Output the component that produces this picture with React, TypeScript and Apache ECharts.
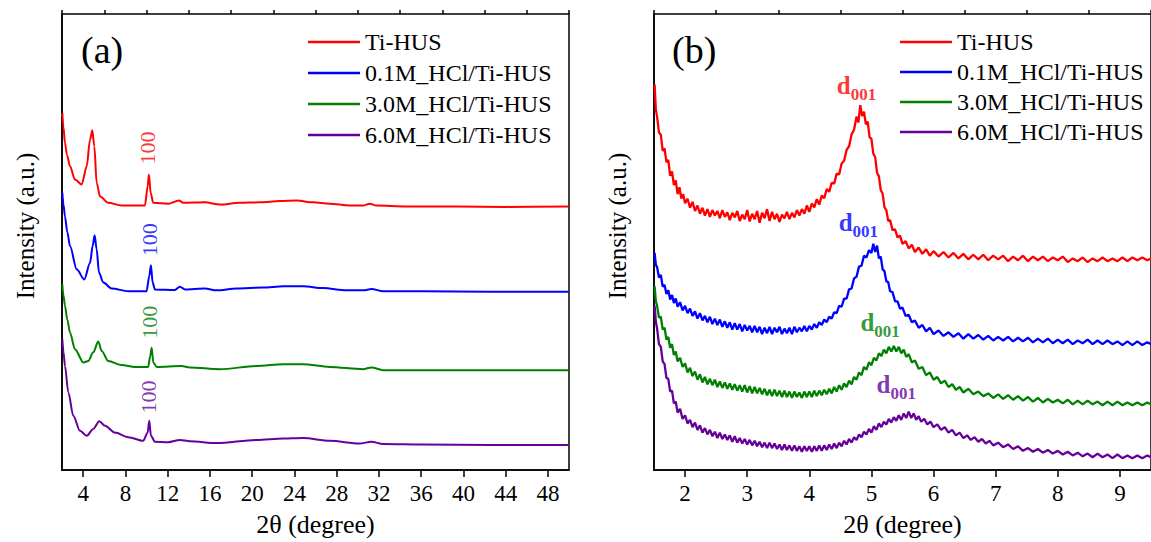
import React, { useEffect, useRef } from "react";
import * as echarts from "echarts";

const FONT = "'Liberation Serif', 'Times New Roman', serif";

const seriesNames = ["Ti-HUS", "0.1M_HCl/Ti-HUS", "3.0M_HCl/Ti-HUS", "6.0M_HCl/Ti-HUS"];
const seriesColors = ["#ff0000", "#0000ff", "#008000", "#660099"];

// Panel (a): 2θ from 2 to 50, intensity in arbitrary units (0–100, stacked offsets)
const aTiHUS: [number, number][] = [
  [2.03, 78.3], [2.14, 75.1], [2.28, 71.8], [2.47, 69.1], [2.76, 66.6], [3.23, 63.7], [3.86, 62.6], [4.34, 66.6], [4.65, 72.4],
  [4.87, 74.5], [5.06, 71.0], [5.28, 63.0], [5.6, 60.0], [6.38, 58.6], [7.65, 58.0], [9.85, 58.0],
  [10.11, 62.2], [10.23, 64.8], [10.39, 60.8], [10.64, 58.6], [12.06, 58.4], [13.07, 59.1], [13.48, 58.6],
  [15.53, 58.7], [16.95, 58.2], [18.84, 58.6], [20.73, 58.7], [22.62, 59.0], [24.2, 59.1], [25.77, 58.7],
  [27.35, 58.4], [29.25, 58.0], [30.5, 58.0], [31.14, 58.4], [31.77, 58.0], [34.61, 57.8], [39.34, 57.8],
  [44.07, 57.7], [49.97, 57.8],
];
const aHCl01: [number, number][] = [
  [2.03, 60.8], [2.14, 58.2], [2.28, 55.6], [2.5, 52.2], [2.76, 49.1], [3.39, 44.0], [4.11, 41.8], [4.65, 45.4], [4.9, 49.1],
  [5.09, 51.5], [5.28, 48.4], [5.5, 43.3], [5.91, 41.1], [6.7, 39.8], [8.27, 39.2], [10.01, 39.2],
  [10.26, 42.5], [10.42, 44.9], [10.58, 41.1], [10.8, 39.6], [12.69, 39.5], [13.16, 40.2], [13.64, 39.6],
  [15.53, 39.8], [16.64, 39.4], [18.53, 39.8], [21.04, 40.0], [22.94, 40.3], [24.83, 40.3], [26.72, 39.9],
  [28.93, 39.4], [30.5, 39.4], [31.3, 39.7], [32.4, 39.2], [36.18, 39.2], [42.49, 39.1], [49.97, 39.1],
];
const aHCl30: [number, number][] = [
  [2.03, 40.7], [2.14, 38.3], [2.28, 36.0], [2.5, 33.0], [2.76, 30.1], [3.23, 26.5], [4.02, 23.6], [4.49, 23.9], [4.96, 25.8],
  [5.43, 28.2], [5.76, 26.1], [6.38, 23.9], [7.65, 23.0], [8.91, 22.6], [10.16, 22.6], [10.35, 25.0],
  [10.49, 26.8], [10.64, 23.6], [10.96, 22.6], [13.32, 22.8], [14.11, 22.5], [16.95, 22.1], [20.42, 22.8],
  [22.94, 23.2], [24.83, 23.2], [27.35, 22.6], [30.5, 22.1], [31.3, 22.5], [32.4, 21.9], [36.18, 21.9],
  [42.49, 21.9], [49.97, 21.9],
];
const aHCl60: [number, number][] = [
  [2.03, 28.7], [2.14, 25.9], [2.28, 22.8], [2.6, 17.0], [3.07, 11.9], [3.7, 8.6], [4.34, 7.5], [4.96, 9.0],
  [5.53, 10.7], [6.07, 9.7], [7.01, 8.2], [8.27, 7.2], [9.69, 6.4], [10.11, 8.2], [10.26, 10.8],
  [10.42, 7.5], [10.8, 6.2], [12.06, 6.1], [13.16, 6.6], [14.11, 6.3], [16.64, 5.9], [20.42, 6.6],
  [22.94, 6.9], [24.83, 7.0], [27.35, 6.4], [30.19, 5.8], [31.3, 6.2], [32.4, 5.7], [36.18, 5.6],
  [42.49, 5.5], [49.97, 5.5],
];

// Panel (b): 2θ from 1.5 to 9.5 (noisy low-angle scans)
const bTiHUS: [number, number][] = [
  [1.51, 84.5], [1.53, 79], [1.55, 77.5], [1.58, 74], [1.61, 73.5], [1.64, 70], [1.67, 70.5], [1.7, 67.5],
  [1.73, 68], [1.76, 64.5], [1.79, 65.5], [1.82, 62.5], [1.85, 63.5], [1.88, 60.5], [1.91, 62], [1.94, 59.5],
  [1.97, 60.5], [2.0, 58.5], [2.04, 59.5], [2.08, 57.5], [2.12, 58.8], [2.16, 56.8], [2.2, 58], [2.24, 56.2],
  [2.28, 57.5], [2.32, 55.8], [2.36, 57.2], [2.4, 55.5], [2.44, 57], [2.48, 55.8], [2.52, 56.8], [2.56, 55.2],
  [2.6, 57], [2.64, 55.5], [2.68, 56.5], [2.72, 54.8], [2.76, 56.4], [2.8, 55.4], [2.84, 56.8], [2.88, 54.6],
  [2.92, 56], [2.96, 55], [3.0, 57], [3.04, 54.5], [3.08, 56.2], [3.12, 55], [3.16, 56.8], [3.2, 54.2],
  [3.24, 56.4], [3.28, 55.2], [3.32, 57.2], [3.36, 54.6], [3.4, 56.6], [3.44, 55], [3.48, 56.2], [3.52, 54.4],
  [3.56, 56], [3.6, 55.2], [3.64, 56.6], [3.68, 55], [3.72, 56.4], [3.76, 55.4], [3.8, 57], [3.84, 55.8],
  [3.88, 57.2], [3.92, 56.2], [3.96, 58], [4.0, 56.6], [4.04, 58.4], [4.08, 57.6], [4.12, 59.4], [4.16, 58.2],
  [4.2, 60.2], [4.24, 59.6], [4.28, 61.6], [4.32, 61], [4.36, 63], [4.4, 62.8], [4.44, 65], [4.48, 64.8],
  [4.52, 67.2], [4.56, 67.8], [4.6, 70.2], [4.64, 71], [4.68, 73.6], [4.72, 74.6], [4.76, 77.5], [4.79, 76.2],
  [4.82, 80], [4.85, 77.6], [4.88, 78.6], [4.91, 75.8], [4.94, 76.4], [4.97, 73], [5.0, 72.6], [5.03, 69.4],
  [5.06, 68.6], [5.09, 65.2], [5.12, 64.4], [5.15, 61.4], [5.18, 60.6], [5.21, 57.6], [5.24, 57], [5.27, 54.6],
  [5.3, 54.8], [5.34, 52.6], [5.38, 52.8], [5.42, 51], [5.46, 51.4], [5.5, 49.6], [5.55, 50.2], [5.6, 48.6],
  [5.65, 49.4], [5.7, 47.8], [5.76, 48.8], [5.82, 47.4], [5.88, 48.4], [5.94, 47], [6.0, 48], [6.08, 46.8],
  [6.16, 47.8], [6.24, 46.6], [6.32, 47.6], [6.4, 46.4], [6.48, 47.4], [6.56, 46.2], [6.64, 47.2], [6.72, 46.2],
  [6.8, 47.2], [6.88, 46], [6.96, 47], [7.04, 46.2], [7.12, 47], [7.2, 45.8], [7.28, 46.8], [7.36, 46],
  [7.44, 47], [7.52, 45.8], [7.6, 46.8], [7.68, 46], [7.76, 46.8], [7.84, 45.8], [7.92, 46.6], [8.0, 46],
  [8.08, 46.8], [8.16, 45.6], [8.24, 46.4], [8.32, 45.8], [8.4, 46.6], [8.48, 45.6], [8.56, 46.4], [8.64, 45.8],
  [8.72, 46.6], [8.8, 45.8], [8.88, 46.4], [8.96, 45.8], [9.04, 46.6], [9.12, 45.8], [9.2, 46.6], [9.28, 46],
  [9.36, 46.6], [9.44, 46], [9.5, 46.4],
];
const bHCl01: [number, number][] = [
  [1.51, 47.6], [1.53, 45], [1.55, 44.5], [1.58, 42.2], [1.61, 42.8], [1.64, 40.2], [1.67, 40.6], [1.7, 38.6],
  [1.73, 39.4], [1.76, 37.4], [1.79, 38.4], [1.82, 36.6], [1.85, 37.6], [1.88, 35.8], [1.92, 36.8], [1.96, 35],
  [2.0, 36], [2.04, 34.4], [2.08, 35.4], [2.12, 33.8], [2.16, 34.8], [2.2, 33.2], [2.24, 34.4], [2.28, 32.8],
  [2.32, 33.8], [2.36, 32.4], [2.4, 33.6], [2.44, 32], [2.48, 33.2], [2.52, 31.8], [2.56, 33], [2.6, 31.4],
  [2.64, 32.6], [2.68, 31.2], [2.72, 32.4], [2.76, 30.8], [2.8, 32.2], [2.84, 30.8], [2.88, 32], [2.92, 30.4],
  [2.96, 31.8], [3.0, 30.6], [3.04, 31.6], [3.08, 30.2], [3.12, 31.6], [3.16, 30.2], [3.2, 31.4], [3.24, 29.8],
  [3.28, 31.2], [3.32, 30], [3.36, 31.4], [3.4, 29.8], [3.44, 31.2], [3.48, 30.2], [3.52, 31.4], [3.56, 29.8],
  [3.6, 31], [3.64, 30], [3.68, 31.2], [3.72, 29.8], [3.76, 31.4], [3.8, 30.2], [3.84, 31.2], [3.88, 30.4],
  [3.92, 31.6], [3.96, 30.4], [4.0, 31.6], [4.04, 30.8], [4.08, 32], [4.12, 31.2], [4.16, 32.4], [4.2, 31.8],
  [4.24, 33], [4.28, 32.4], [4.32, 33.6], [4.36, 33.2], [4.4, 34.6], [4.44, 34.4], [4.48, 36], [4.52, 35.8],
  [4.56, 37.6], [4.6, 37.6], [4.64, 39.6], [4.68, 39.8], [4.72, 42], [4.76, 42.4], [4.8, 44.6], [4.84, 44.8],
  [4.88, 47], [4.92, 46.6], [4.96, 48.2], [5.0, 47.6], [5.03, 49.6], [5.06, 47.8], [5.09, 49.2], [5.12, 46.4],
  [5.15, 46.8], [5.18, 44], [5.21, 43.6], [5.24, 41.4], [5.27, 41.2], [5.3, 39.2], [5.34, 39], [5.38, 37],
  [5.42, 37], [5.46, 35.4], [5.5, 35.6], [5.55, 33.8], [5.6, 34], [5.65, 32.4], [5.7, 32.8], [5.76, 31.2],
  [5.82, 31.8], [5.88, 30.4], [5.94, 31.2], [6.0, 29.8], [6.08, 30.6], [6.16, 29.4], [6.24, 30.2], [6.32, 29.2],
  [6.4, 30], [6.48, 28.8], [6.56, 29.8], [6.64, 28.8], [6.72, 29.6], [6.8, 28.6], [6.88, 29.4], [6.96, 28.4],
  [7.04, 29.2], [7.12, 28.4], [7.2, 29.2], [7.28, 28.2], [7.36, 29], [7.44, 28.2], [7.52, 29], [7.6, 28],
  [7.68, 28.8], [7.76, 28], [7.84, 28.8], [7.92, 27.8], [8.0, 28.6], [8.08, 27.8], [8.16, 28.6], [8.24, 27.6],
  [8.32, 28.4], [8.4, 27.8], [8.48, 28.6], [8.56, 27.6], [8.64, 28.4], [8.72, 27.6], [8.8, 28.4], [8.88, 27.6],
  [8.96, 28.2], [9.04, 27.4], [9.12, 28.2], [9.2, 27.4], [9.28, 28.2], [9.36, 27.4], [9.44, 28], [9.5, 27.6],
];
const bHCl30: [number, number][] = [
  [1.51, 40.3], [1.53, 37], [1.55, 36], [1.58, 33.4], [1.61, 33.6], [1.64, 30.8], [1.67, 31.2], [1.7, 28.6],
  [1.73, 29.2], [1.76, 26.8], [1.79, 27.6], [1.82, 25.2], [1.85, 26], [1.88, 23.8], [1.92, 24.6], [1.96, 22.6],
  [2.0, 23.4], [2.04, 21.4], [2.08, 22.4], [2.12, 20.6], [2.16, 21.6], [2.2, 19.8], [2.24, 21], [2.28, 19.2],
  [2.32, 20.4], [2.36, 18.8], [2.4, 20], [2.44, 18.6], [2.48, 19.8], [2.52, 18.2], [2.56, 19.4], [2.6, 18],
  [2.64, 19.2], [2.68, 17.8], [2.72, 19], [2.76, 17.6], [2.8, 18.8], [2.84, 17.4], [2.88, 18.6], [2.92, 17.2],
  [2.96, 18.6], [3.0, 17], [3.04, 18.4], [3.08, 16.8], [3.12, 18.2], [3.16, 16.8], [3.2, 18], [3.24, 16.6],
  [3.28, 17.8], [3.32, 16.4], [3.36, 17.6], [3.4, 16.2], [3.44, 17.6], [3.48, 16.2], [3.52, 17.4], [3.56, 16],
  [3.6, 17.4], [3.64, 16], [3.68, 17.2], [3.72, 15.8], [3.76, 17.2], [3.8, 16], [3.84, 17], [3.88, 15.8],
  [3.92, 17.2], [3.96, 16], [4.0, 17.2], [4.04, 16], [4.08, 17.4], [4.12, 16.2], [4.16, 17.4], [4.2, 16.4],
  [4.24, 17.6], [4.28, 16.6], [4.32, 17.8], [4.36, 16.8], [4.4, 18.2], [4.44, 17.2], [4.48, 18.6], [4.52, 17.6],
  [4.56, 19], [4.6, 18.2], [4.64, 19.6], [4.68, 18.8], [4.72, 20.4], [4.76, 19.8], [4.8, 21.4], [4.84, 20.8],
  [4.88, 22.6], [4.92, 22], [4.96, 23.6], [5.0, 23], [5.04, 24.6], [5.08, 24], [5.12, 25.6], [5.16, 25],
  [5.2, 26.4], [5.24, 25.6], [5.28, 27], [5.32, 26], [5.36, 27.2], [5.4, 26], [5.44, 27], [5.48, 25.6],
  [5.52, 26.4], [5.56, 24.8], [5.6, 25.4], [5.65, 23.6], [5.7, 24], [5.76, 22.2], [5.82, 22.6], [5.88, 20.8],
  [5.94, 21.4], [6.0, 19.8], [6.06, 20.4], [6.12, 19], [6.18, 19.6], [6.24, 18.2], [6.3, 18.8], [6.36, 17.6],
  [6.42, 18.2], [6.48, 17], [6.56, 17.8], [6.64, 16.6], [6.72, 17.2], [6.8, 16.2], [6.88, 16.8], [6.96, 15.8],
  [7.04, 16.6], [7.12, 15.6], [7.2, 16.4], [7.28, 15.4], [7.36, 16.2], [7.44, 15.2], [7.52, 16], [7.6, 15],
  [7.68, 15.8], [7.76, 14.8], [7.84, 15.6], [7.92, 14.8], [8.0, 15.4], [8.08, 14.6], [8.16, 15.4], [8.24, 14.4],
  [8.32, 15.2], [8.4, 14.4], [8.48, 15.2], [8.56, 14.4], [8.64, 15], [8.72, 14.2], [8.8, 15], [8.88, 14.2],
  [8.96, 15], [9.04, 14.2], [9.12, 14.8], [9.2, 14.2], [9.28, 14.8], [9.36, 14.2], [9.44, 14.8], [9.5, 14.4],
];
const bHCl60: [number, number][] = [
  [1.51, 36], [1.53, 32.5], [1.55, 31], [1.58, 27.6], [1.61, 27], [1.64, 23.8], [1.67, 23.2], [1.7, 20.2],
  [1.73, 20], [1.76, 17.2], [1.79, 17.4], [1.82, 14.6], [1.85, 15], [1.88, 12.6], [1.92, 13.4], [1.96, 11.2],
  [2.0, 12], [2.04, 10.2], [2.08, 11], [2.12, 9.4], [2.16, 10.4], [2.2, 8.8], [2.24, 9.8], [2.28, 8.2],
  [2.32, 9.2], [2.36, 7.8], [2.4, 8.8], [2.44, 7.4], [2.48, 8.4], [2.52, 7], [2.56, 8.2], [2.6, 6.8],
  [2.64, 7.8], [2.68, 6.6], [2.72, 7.6], [2.76, 6.2], [2.8, 7.4], [2.84, 6], [2.88, 7], [2.92, 5.8],
  [2.96, 6.8], [3.0, 5.6], [3.04, 6.6], [3.08, 5.4], [3.12, 6.4], [3.16, 5.2], [3.2, 6.2], [3.24, 5],
  [3.28, 6], [3.32, 4.8], [3.36, 6], [3.4, 4.8], [3.44, 5.8], [3.48, 4.6], [3.52, 5.6], [3.56, 4.4],
  [3.6, 5.6], [3.64, 4.4], [3.68, 5.4], [3.72, 4.2], [3.76, 5.4], [3.8, 4.2], [3.84, 5.2], [3.88, 4],
  [3.92, 5.2], [3.96, 4.2], [4.0, 5.2], [4.04, 4], [4.08, 5.2], [4.12, 4.2], [4.16, 5.4], [4.2, 4.2],
  [4.24, 5.4], [4.28, 4.4], [4.32, 5.6], [4.36, 4.6], [4.4, 5.8], [4.44, 4.8], [4.48, 6], [4.52, 5.2],
  [4.56, 6.4], [4.6, 5.6], [4.64, 6.8], [4.68, 6], [4.72, 7.2], [4.76, 6.6], [4.8, 7.8], [4.84, 7.2],
  [4.88, 8.4], [4.92, 7.8], [4.96, 9], [5.0, 8.2], [5.04, 9.6], [5.08, 8.8], [5.12, 10.2], [5.16, 9.4],
  [5.2, 10.6], [5.24, 10], [5.28, 11.2], [5.32, 10.4], [5.36, 11.6], [5.4, 10.8], [5.44, 12], [5.48, 11],
  [5.52, 12.4], [5.56, 11.4], [5.6, 12.8], [5.64, 11.4], [5.68, 12.4], [5.72, 11], [5.76, 11.8], [5.8, 10.6],
  [5.85, 11.2], [5.9, 10], [5.95, 10.6], [6.0, 9.4], [6.06, 10], [6.12, 8.8], [6.18, 9.4], [6.24, 8.2],
  [6.3, 8.8], [6.36, 7.6], [6.42, 8.2], [6.48, 7], [6.54, 7.6], [6.6, 6.6], [6.66, 7.2], [6.72, 6.2],
  [6.78, 6.8], [6.84, 5.8], [6.9, 6.4], [6.96, 5.4], [7.04, 6], [7.12, 5], [7.2, 5.6], [7.28, 4.6],
  [7.36, 5.2], [7.44, 4.2], [7.52, 4.8], [7.6, 4], [7.68, 4.6], [7.76, 3.8], [7.84, 4.4], [7.92, 3.6],
  [8.0, 4.2], [8.08, 3.4], [8.16, 4], [8.24, 3.2], [8.32, 3.8], [8.4, 3], [8.48, 3.6], [8.56, 2.8],
  [8.64, 3.6], [8.72, 2.8], [8.8, 3.4], [8.88, 2.6], [8.96, 3.4], [9.04, 2.6], [9.12, 3.2], [9.2, 2.6],
  [9.28, 3.2], [9.36, 2.6], [9.44, 3.2], [9.5, 2.8],
];

// Peak annotations
const aPeakLabelText = "100";
const aPeakLabelPos: [number, number][] = [[10.1, 70.6], [10.33, 50.5], [10.33, 32.4], [10.17, 16.0]];
const bPeakLabelPos: [number, number][] = [[4.76, 83.8], [4.79, 53.8], [5.14, 31.9], [5.4, 18.2]];

// Axis ticks
const aMajorTicks = [4, 8, 12, 16, 20, 24, 28, 32, 36, 40, 44, 48];
const aMinorTicks = [2, 6, 10, 14, 18, 22, 26, 30, 34, 38, 42, 46, 50];
const bMajorTicks = [2, 3, 4, 5, 6, 7, 8, 9];
const bMinorTicks = [1.5, 2.5, 3.5, 4.5, 5.5, 6.5, 7.5, 8.5, 9.5];

const aSeries = [aTiHUS, aHCl01, aHCl30, aHCl60];
const bSeries = [bTiHUS, bHCl01, bHCl30, bHCl60];

export default function App() {
  const ref = useRef<HTMLDivElement>(null);

  useEffect(() => {
    if (!ref.current) return;
    const chart = echarts.init(ref.current, null, { renderer: "svg" });

    const axisText = { fontFamily: FONT, color: "#000" };

    const majorAxis = (gridIndex: number, min: number, max: number, ticks: number[]) => ({
      type: "value",
      gridIndex,
      min,
      max,
      name: "2θ (degree)",
      nameLocation: "middle",
      nameGap: 41,
      nameTextStyle: { ...axisText, fontSize: 26 },
      axisLine: { show: true, lineStyle: { color: "#000", width: 1.5 } },
      axisTick: { show: true, customValues: ticks, length: 7, inside: false, lineStyle: { color: "#000", width: 1.5 } },
      axisLabel: { show: true, customValues: ticks, margin: 12, ...axisText, fontSize: 23 },
      splitLine: { show: false },
    });
    const minorAxis = (gridIndex: number, min: number, max: number, ticks: number[]) => ({
      type: "value",
      gridIndex,
      min,
      max,
      axisLine: { show: false },
      axisTick: { show: true, customValues: ticks, length: 4, inside: false, lineStyle: { color: "#000", width: 1.5 } },
      axisLabel: { show: false },
      splitLine: { show: false },
    });
    const yAxis = (gridIndex: number) => ({
      type: "value",
      gridIndex,
      min: 0,
      max: 100,
      name: "Intensity (a.u.)",
      nameLocation: "middle",
      nameGap: 24,
      nameTextStyle: { ...axisText, fontSize: 25, padding: [0, 0, 0, 32] },
      axisLine: { show: true, lineStyle: { color: "#000", width: 1.5 } },
      axisTick: { show: false },
      axisLabel: { show: false },
      splitLine: { show: false },
    });

    const lineSeries: any[] = [];
    seriesNames.forEach((name, i) => {
      lineSeries.push({
        type: "line",
        name,
        xAxisIndex: 0,
        yAxisIndex: 0,
        data: aSeries[i],
        showSymbol: false,
        smooth: 0.3,
        smoothMonotone: "x",
        color: seriesColors[i],
        lineStyle: { width: 2, color: seriesColors[i] },
      });
    });
    seriesNames.forEach((name, i) => {
      lineSeries.push({
        type: "line",
        name,
        xAxisIndex: 2,
        yAxisIndex: 1,
        data: bSeries[i],
        showSymbol: false,
        color: seriesColors[i],
        lineStyle: { width: 2.3, color: seriesColors[i] },
      });
    });

    lineSeries.push({
      type: "scatter",
      name: "peak-a",
      xAxisIndex: 0,
      yAxisIndex: 0,
      silent: true,
      symbolSize: 1,
      itemStyle: { color: "transparent" },
      data: aPeakLabelPos.map((p, i) => ({
        value: p,
        label: {
          show: true,
          position: "inside",
          rotate: 90,
          formatter: aPeakLabelText,
          fontFamily: FONT,
          fontSize: 22,
          color: seriesColors[i],
        },
      })),
    });
    lineSeries.push({
      type: "scatter",
      name: "peak-b",
      xAxisIndex: 2,
      yAxisIndex: 1,
      silent: true,
      symbolSize: 1,
      itemStyle: { color: "transparent" },
      data: bPeakLabelPos.map((p, i) => ({
        value: p,
        label: {
          show: true,
          position: "inside",
          formatter: "{d|d}{s|001}",
          rich: {
            d: { fontFamily: FONT, fontSize: 25, fontWeight: "bold", color: seriesColors[i], padding: [0, 0, 5, 0] },
            s: { fontFamily: FONT, fontSize: 17, fontWeight: "bold", color: seriesColors[i], verticalAlign: "bottom" },
          },
        },
      })),
    });

    const legendBase = {
      orient: "vertical",
      data: seriesNames,
      icon: "rect",
      itemWidth: 52,
      itemHeight: 2.5,
      selectedMode: false,
      textStyle: { fontFamily: FONT, fontSize: 24, color: "#000", lineHeight: 24 },
    };

    chart.setOption({
      animation: false,
      backgroundColor: "#ffffff",
      title: [
        { text: "(a)", left: 76, top: 26, textStyle: { fontFamily: FONT, fontSize: 38, fontWeight: "normal", color: "#000" } },
        { text: "(b)", left: 667, top: 26, textStyle: { fontFamily: FONT, fontSize: 38, fontWeight: "normal", color: "#000" } },
      ],
      legend: [
        { ...legendBase, left: 303, top: 25, itemGap: 7 },
        { ...legendBase, left: 895, top: 25, itemGap: 6 },
      ],
      grid: [
        { left: 62, top: 14, width: 507, height: 457, show: true, borderColor: "#000", borderWidth: 1.5, backgroundColor: "transparent" },
        { left: 654, top: 14, width: 508, height: 457, show: true, borderColor: "#000", borderWidth: 1.5, backgroundColor: "transparent" },
      ],
      xAxis: [
        majorAxis(0, 2, 50, aMajorTicks),
        minorAxis(0, 2, 50, aMinorTicks),
        majorAxis(1, 1.5, 9.5, bMajorTicks),
        minorAxis(1, 1.5, 9.5, bMinorTicks),
      ],
      yAxis: [yAxis(0), yAxis(1)],
      series: lineSeries,
    });

    return () => chart.dispose();
  }, []);

  return (
    <div
      ref={ref}
      style={{ position: "absolute", left: 0, top: 0, width: 1151, height: 542, overflow: "hidden", background: "#fff" }}
    />
  );
}
